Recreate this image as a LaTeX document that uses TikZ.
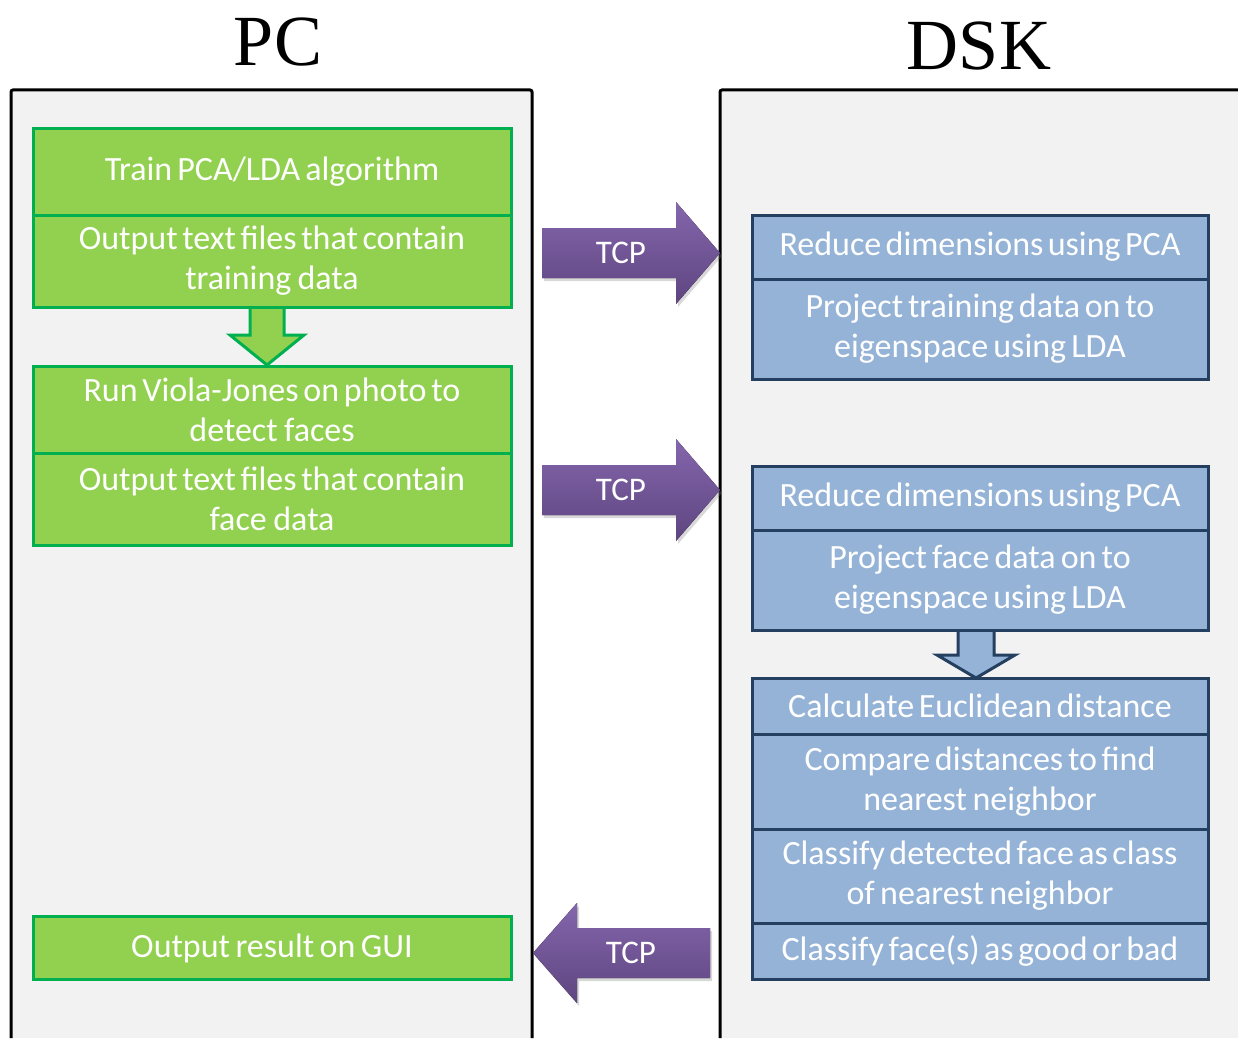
\documentclass[tikz,border=0pt]{standalone}
\usepackage{fontspec}
\setmainfont{Carlito}
\newfontfamily\titlefont{Liberation Serif}
\usetikzlibrary{shadows}
\definecolor{panelfill}{HTML}{F2F2F2}
\definecolor{greenfill}{HTML}{92D050}
\definecolor{greenline}{HTML}{00B050}
\definecolor{bluefill}{HTML}{95B3D7}
\definecolor{blueline}{HTML}{243F60}
\definecolor{purpletop}{HTML}{8466AC}
\definecolor{purplebot}{HTML}{5E4580}
\pgfdeclarelayer{bgpanel}
\pgfdeclarelayer{bgarrow}
\pgfsetlayers{bgpanel,bgarrow,main}
\tikzset{
  panel/.style={draw=black, line width=3pt, rounded corners=2pt},
  boxtext/.style={text=white, align=center, inner sep=0pt, font=\fontsize{34}{40}\selectfont,
    execute at begin node={\spaceskip=4pt plus 1pt minus 1pt\relax\xspaceskip=\spaceskip}},
  gbox/.style={boxtext, draw=greenline, line width=3pt, fill=greenfill, text width=478pt},
  bbox/.style={boxtext, draw=blueline, line width=3pt, fill=bluefill, text width=456pt},
  garrow/.style={draw=greenline, line width=3pt, fill=greenfill, line join=miter},
  barrow/.style={draw=blueline, line width=3pt, fill=bluefill, line join=miter},
  tcparrow/.style={top color=purpletop, bottom color=purplebot, draw=none,
    drop shadow={opacity=0.3, shadow xshift=2pt, shadow yshift=-3pt}},
  tcptext/.style={text=white, inner sep=0pt, font=\fontsize{33}{38}\selectfont},
  title/.style={inner sep=0pt, font=\titlefont\fontsize{72}{80}\selectfont}
}
\begin{document}
\begin{tikzpicture}[x=1pt,y=-1pt]
\useasboundingbox (0,0) rectangle (1238,1038);

% panels
\begin{pgfonlayer}{bgpanel}
\fill[white] (0,0) rectangle (1238,1038);
\fill[panelfill] (11,90) rectangle (532,1038);
\fill[panelfill] (720,90) rectangle (1238,1038);
\draw[panel] (11,1038) -- (11,90) -- (532,90) -- (532,1038);
\draw[panel] (720,1038) -- (720,90) -- (1238,90);
\end{pgfonlayer}

% titles
\node[title] (pc) at (278,42) {PC};
\node[title] (dsk) at (979,46) {DSK};

% PC boxes
\node[gbox, minimum height=87pt] (g1) at (272,172) {Train PCA/LDA algorithm};
\node[gbox, minimum height=92pt] (g2) at (272,261) {Output text files that contain\\training data};
\node[gbox, minimum height=87pt] (g3) at (272,410) {Run Viola-Jones on photo to\\detect faces};
\node[gbox, minimum height=92pt] (g4) at (272,499) {Output text files that contain\\face data};
\node[gbox, minimum height=63pt] (g5) at (272,948) {Output result on GUI};

% DSK boxes
\node[bbox, minimum height=64pt] (a1) at (980,247) {Reduce dimensions using PCA};
\node[bbox, minimum height=100pt] (a2) at (980,329) {Project training data on to\\eigenspace using LDA};
\node[bbox, minimum height=64pt] (b1) at (980,498) {Reduce dimensions using PCA};
\node[bbox, minimum height=100pt] (b2) at (980,580) {Project face data on to\\eigenspace using LDA};
\node[bbox, minimum height=56pt] (c1) at (980,706) {Calculate Euclidean distance};
\node[bbox, minimum height=95pt] (c2) at (980,781.5) {Compare distances to find\\nearest neighbor};
\node[bbox, minimum height=94pt] (c3) at (980,876) {Classify detected face as class\\of nearest neighbor};
\node[bbox, minimum height=56pt] (c4) at (980,951) {Classify face(s) as good or bad};

% block arrows
\begin{pgfonlayer}{bgarrow}
\draw[garrow] (250,306) -- (250,335) -- (230,335) -- (267,365) -- (304,335) -- (284,335) -- (284,306) -- cycle;
\draw[barrow] (958,629) -- (958,655) -- (937,655) -- (976,678) -- (1015,655) -- (994,655) -- (994,629) -- cycle;
\end{pgfonlayer}

\fill[tcparrow] (542,228) -- (676,228) -- (676,202) -- (720,253) -- (676,304) -- (676,278) -- (542,278) -- cycle;
\node[tcptext] (tcp1) at (621,253) {TCP};
\fill[tcparrow] (542,465) -- (676,465) -- (676,439) -- (720,490) -- (676,541) -- (676,515) -- (542,515) -- cycle;
\node[tcptext] (tcp2) at (621,490) {TCP};
\fill[tcparrow] (710,928) -- (577,928) -- (577,903) -- (533,953) -- (577,1003) -- (577,978) -- (710,978) -- cycle;
\node[tcptext] (tcp3) at (631,953) {TCP};
\end{tikzpicture}
\end{document}
